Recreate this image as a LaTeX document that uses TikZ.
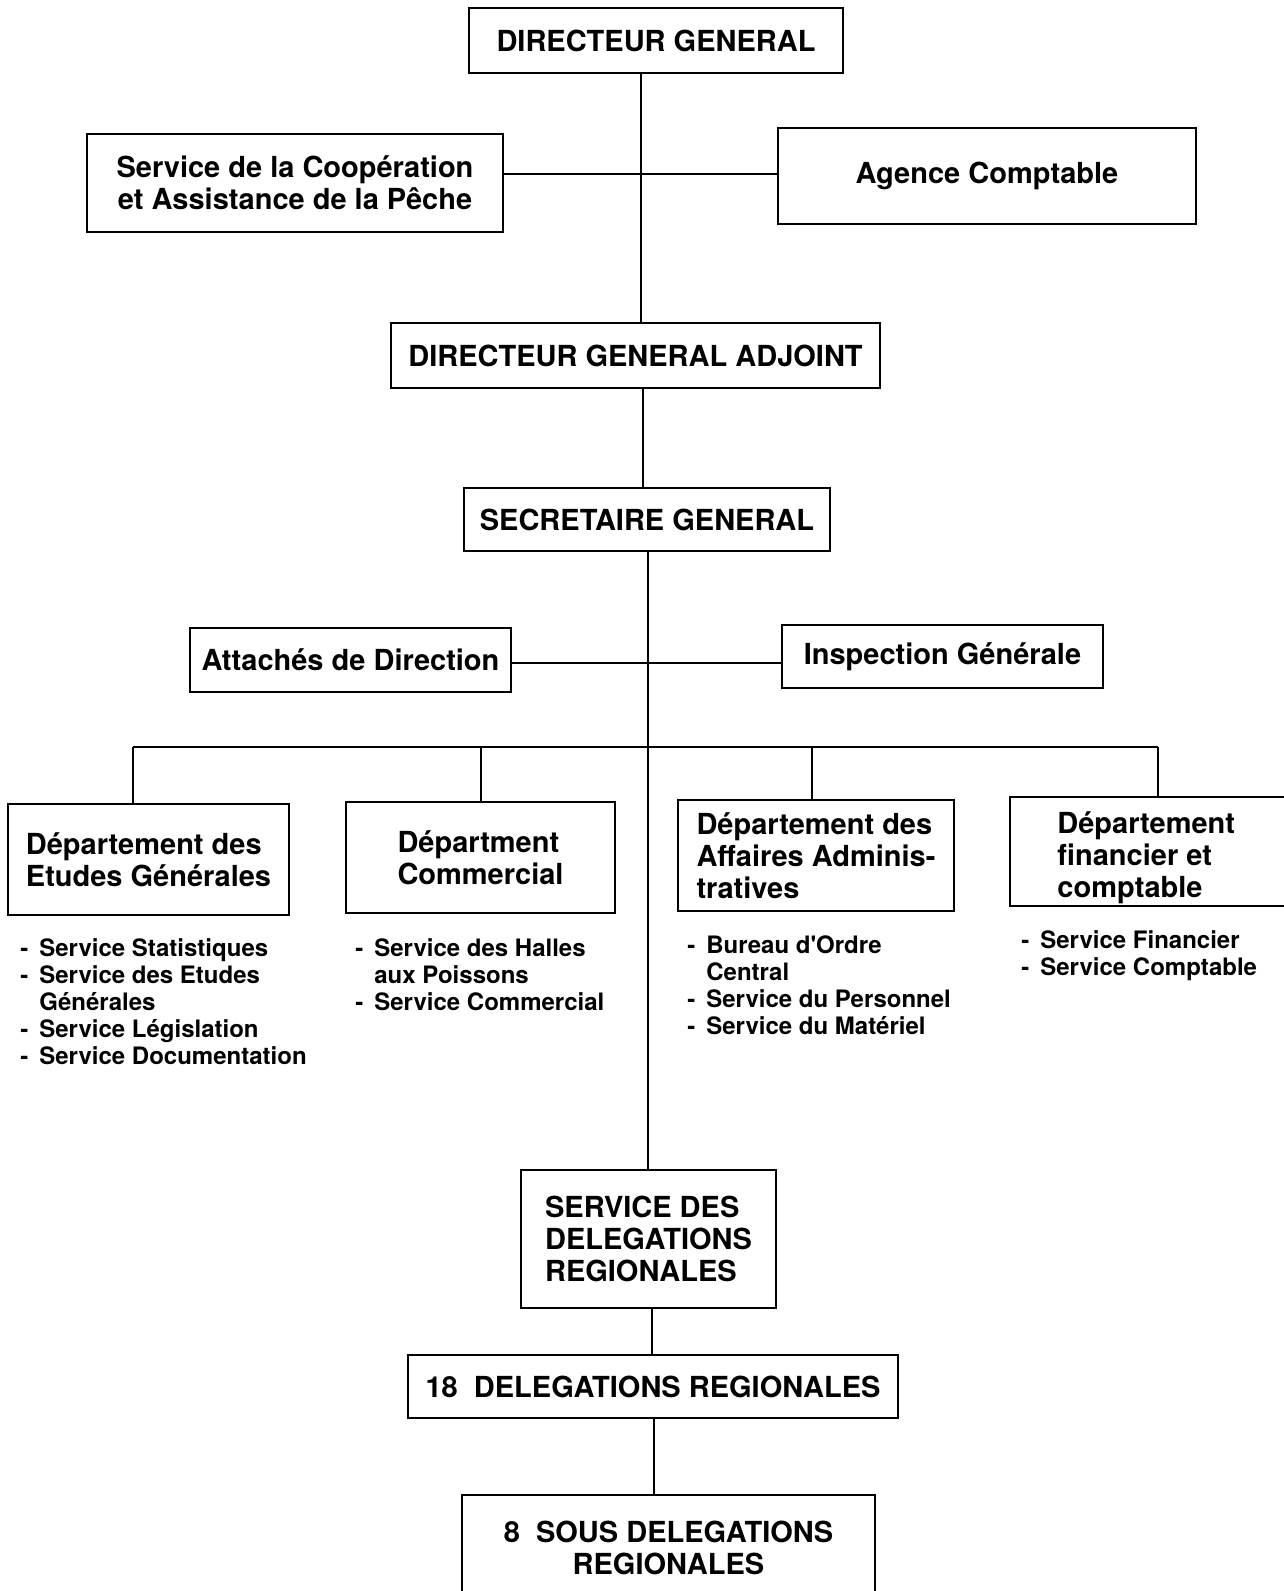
\documentclass[tikz,border=0pt]{standalone}
\usepackage{fontspec}
\setmainfont{TeX Gyre Heros}[Ligatures=TeXOff]
\newcommand\lidash{\makebox[9.5pt][l]{-}}
\newcommand\liind{\hspace*{9.5pt}}
\begin{document}
\begin{tikzpicture}[x=0.5pt,y=-0.5pt,
  box/.style={draw, line width=1.2pt, inner sep=0pt, align=center,
    font=\bfseries\fontsize{14.5}{16}\selectfont},
  lbox/.style={box, align=left},
  btext/.style={inner sep=0pt, align=left, font=\bfseries\fontsize{14.5}{16}\selectfont},
  lst/.style={anchor=north west, inner sep=0pt, align=left,
    font=\bfseries\fontsize{12}{13.5}\selectfont},
  conn/.style={line width=1.3pt}]
\path[use as bounding box, clip] (0,0) rectangle (1284,1591);
\fill[white] (0,0) rectangle (1284,1591);
% spine coordinates
\coordinate (s1) at (641,0);
\coordinate (s2) at (643,0);
\coordinate (s3) at (648,0);
\coordinate (s4) at (652,0);
\coordinate (s5) at (654,0);
\coordinate (h1) at (0,174);
\coordinate (h2) at (0,663);
% boxes
\node[box, minimum width=187pt, minimum height=32.5pt] (dg) at (656,40.5) {DIRECTEUR GENERAL};
\node[box, minimum width=208pt, minimum height=49pt] (coop) at (295,183) {Service de la Coopération\\et Assistance de la Pêche};
\node[box, minimum width=209pt, minimum height=48pt] (agence) at (987,176) {\raisebox{-2pt}{Agence Comptable}};
\node[box, minimum width=244.5pt, minimum height=32.5pt] (dga) at (635.5,355.5) {DIRECTEUR GENERAL ADJOINT};
\node[box, minimum width=183pt, minimum height=31.5pt] (sg) at (647,519.5) {SECRETAIRE GENERAL};
\node[box, minimum width=160.5pt, minimum height=32pt] (att) at (350.5,660) {Attachés de Direction};
\node[box, minimum width=160.5pt, minimum height=31.5pt] (insp) at (942.5,656.5) {Inspection Générale};
\node[lbox, minimum width=140.5pt, minimum height=55.5pt] (deg) at (148.5,859.5) {Département des\\Etudes Générales};
\node[lbox, minimum width=134.5pt, minimum height=55.5pt] (com) at (480.5,857.5) {Départment\\Commercial};
\node[lbox, minimum width=138pt, minimum height=55.5pt] (daa) at (816,855.5) {Département des\\Affaires Adminis-\\tratives};
\node[box, minimum width=141pt, minimum height=54.5pt] (dfc) at (1151,851.5) {};
\node[btext, anchor=west] (dfct) at (1057,858) {Département\\financier et\\comptable};
\node[lbox, minimum width=127.5pt, minimum height=69pt] (sdr) at (648.5,1239) {SERVICE DES\\DELEGATIONS\\REGIONALES};
\node[box, minimum width=245pt, minimum height=31.5pt] (d18) at (653,1386.5) {18\ \ DELEGATIONS REGIONALES};
\node[box, minimum width=206.5pt, minimum height=52.5pt] (d8) at (668.5,1547.5) {8\ \ SOUS DELEGATIONS\\REGIONALES};
% lists
\node[lst] (ldeg) at (20,938) {\lidash Service Statistiques\\\lidash Service des Etudes\\\liind Générales\\\lidash Service Législation\\\lidash Service Documentation};
\node[lst] (lcom) at (355,938) {\lidash Service des Halles\\\liind aux Poissons\\\lidash Service Commercial};
\node[lst] (ldaa) at (687,935) {\lidash Bureau d'Ordre\\\liind Central\\\lidash Service du Personnel\\\lidash Service du Matériel};
\node[lst] (ldfc) at (1021,930) {\lidash Service Financier\\\lidash Service Comptable};
% connectors
\draw[conn] (dg.south -| s1) -- (dga.north -| s1);
\draw[conn] (coop.east |- h1) -- (agence.west |- h1);
\draw[conn] (dga.south -| s2) -- (sg.north -| s2);
\draw[conn] (sg.south -| s3) -- (sdr.north -| s3);
\draw[conn] (att.east |- h2) -- (insp.west |- h2);
\coordinate (b1) at (133,747);
\coordinate (b2) at (481,747);
\coordinate (b3) at (812,747);
\coordinate (b4) at (1158,747);
\draw[conn] (b1) -- (b4);
\draw[conn] (b1) -- (deg.north -| b1);
\draw[conn] (b2) -- (com.north -| b2);
\draw[conn] (b3) -- (daa.north -| b3);
\draw[conn] (b4) -- (dfc.north -| b4);
\draw[conn] (sdr.south -| s4) -- (d18.north -| s4);
\draw[conn] (d18.south -| s5) -- (d8.north -| s5);
\end{tikzpicture}
\end{document}
